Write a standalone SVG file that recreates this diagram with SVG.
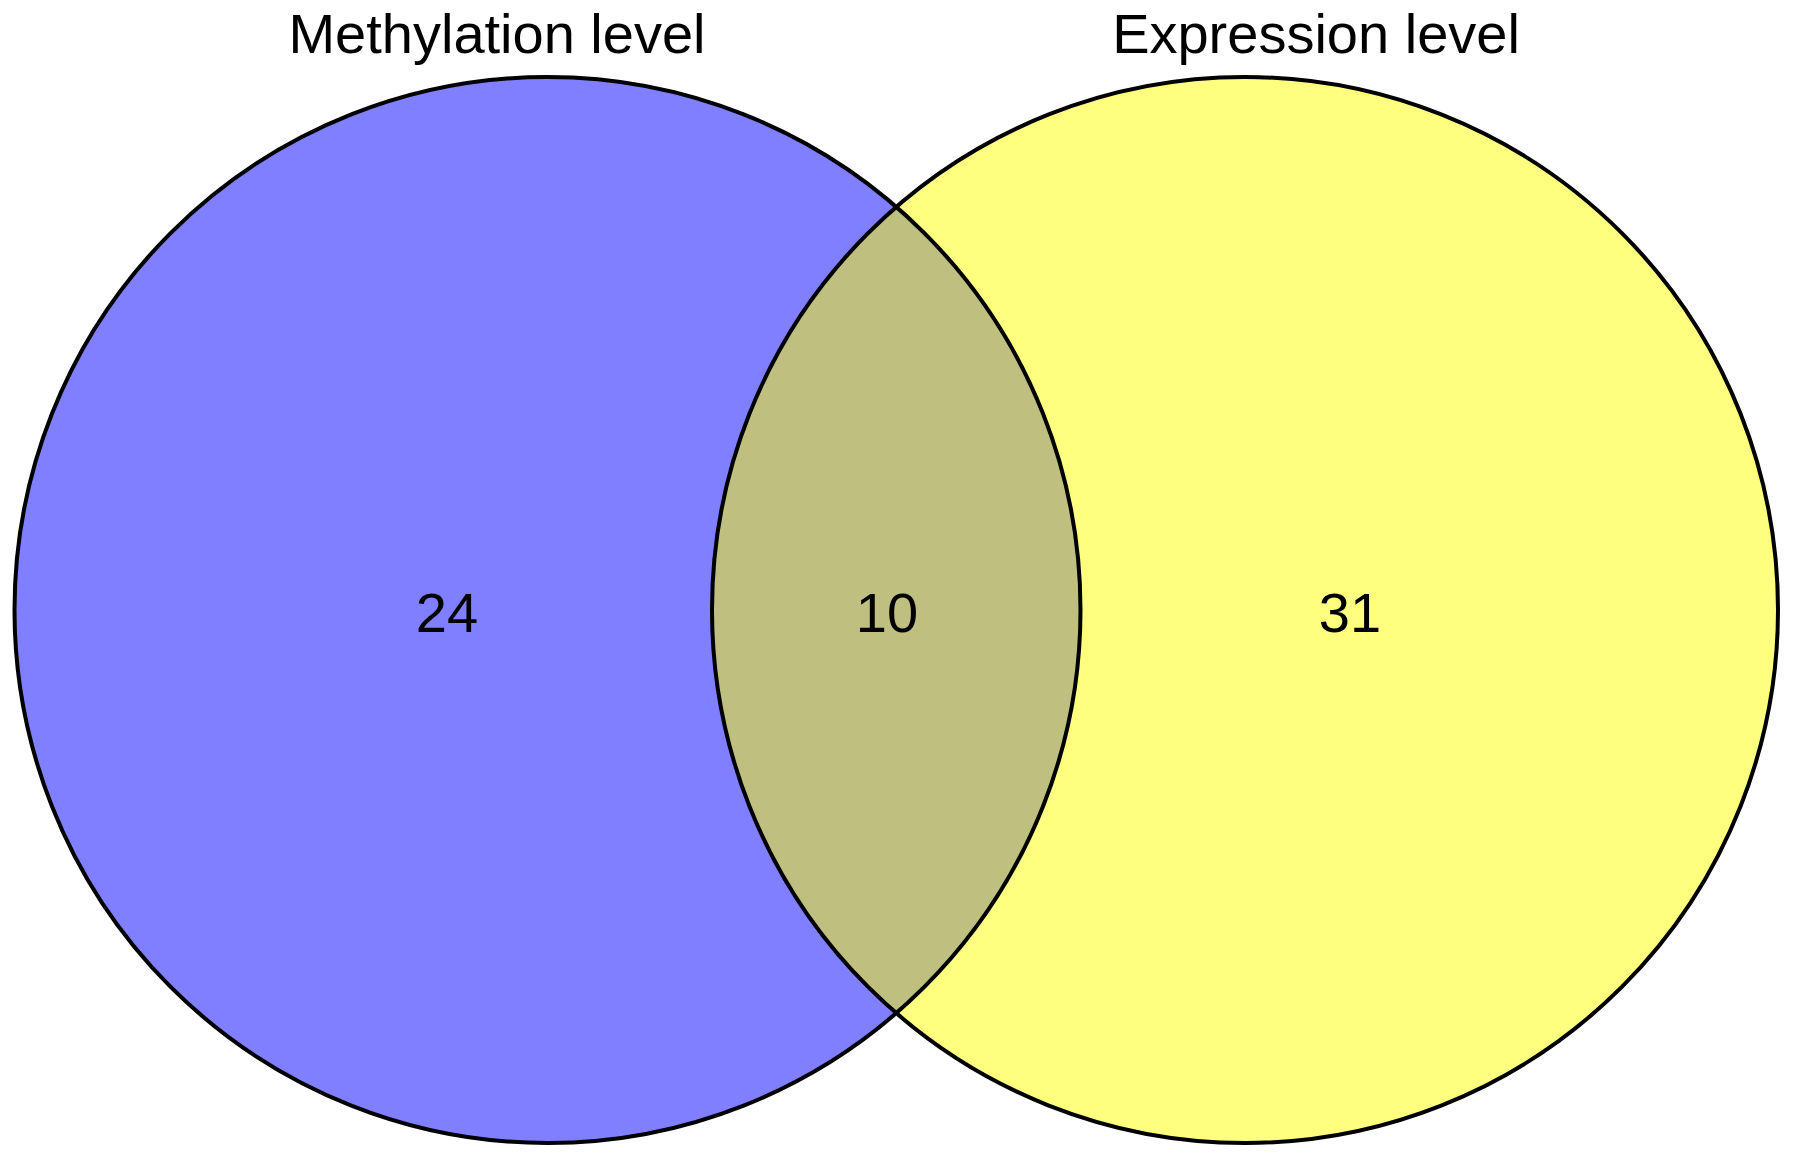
<svg xmlns="http://www.w3.org/2000/svg" width="1795" height="1162" viewBox="0 0 1795 1162">
<style>
.c{fill-opacity:0.5;stroke:none}
.t{font-family:"Liberation Sans",Arial,sans-serif;font-size:56px;fill:#000;text-anchor:middle}
</style>
<rect width="1795" height="1162" fill="#fff"/>
<g id="set-methylation">
<circle class="c" cx="547.5" cy="610" r="533" fill="#0000ff"/>
</g>
<g id="set-expression">
<circle class="c" cx="1245" cy="610" r="533" fill="#ffff00"/>
</g>
<g id="outlines" fill="none" stroke="#000" stroke-width="4">
<circle cx="547.5" cy="610" r="533"/>
<circle cx="1245" cy="610" r="533"/>
</g>
<g id="labels">
<text class="t" x="497" y="53">Methylation level</text>
<text class="t" x="1316" y="53">Expression level</text>
<text class="t" x="447" y="632">24</text>
<text class="t" x="887" y="632">10</text>
<text class="t" x="1350" y="632">31</text>
</g>
</svg>
